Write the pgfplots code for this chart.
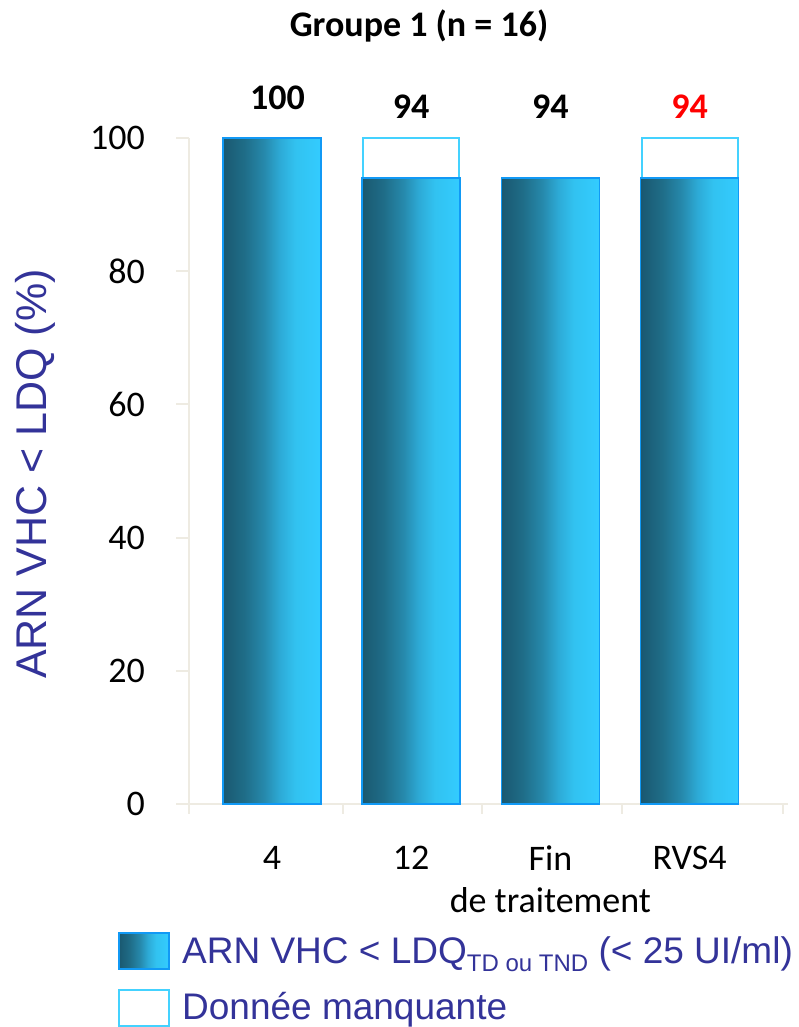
\documentclass[border=0pt]{standalone}
\usepackage{fontspec}
\setmainfont{Carlito}
\newfontfamily\arial{Liberation Sans}
\usepackage{pgfplots}
\pgfplotsset{compat=1.18}

\definecolor{axisgray}{HTML}{EEEBE2}
\definecolor{labelblue}{HTML}{333399}
\definecolor{barborder}{HTML}{1199F5}
\definecolor{missborder}{HTML}{44D2FF}
\definecolor{shA}{HTML}{1A5870}
\definecolor{shB}{HTML}{1F6D88}
\definecolor{shC}{HTML}{2689AC}
\definecolor{shD}{HTML}{2DAAD6}
\definecolor{shE}{HTML}{32C2F0}
\definecolor{shF}{HTML}{33CCFF}

% dark-to-light cylinder look of the bars
\pgfdeclarehorizontalshading{barshade}{100bp}{%
  color(0bp)=(shA); color(25bp)=(shA); color(36bp)=(shB); color(46bp)=(shC);
  color(54bp)=(shD); color(62bp)=(shE); color(75bp)=(shF); color(100bp)=(shF)}

\pgfplotsset{
  fullbar/.style={ybar, bar width=98pt, bar shift=0pt, draw=barborder,
    line width=1.6pt, shading=barshade},
  missbar/.style={ybar, bar width=96pt, bar shift=0pt, fill=white,
    draw=missborder, line width=2pt},
}

\begin{document}
\begin{tikzpicture}
\useasboundingbox (0pt,0pt) rectangle (798pt,1027pt);
\begin{axis}[
  at={(189pt,223pt)}, anchor=south west,
  scale only axis, width=599pt, height=666pt,
  xmin=-0.596, xmax=3.707, ymin=0, ymax=100,
  axis x line*=bottom, axis y line*=left,
  axis line style={axisgray, line width=2pt, -},
  ytick={0,20,...,100},
  xtick={0,1,2,3},
  xticklabels={4,12,{Fin\\de traitement},RVS4},
  minor xtick={-0.596,0.51,1.509,2.514,3.671},
  tick align=outside,
  major tick length=13pt, minor tick length=10pt,
  tick style={axisgray, line width=2pt},
  major x tick style={draw=none},
  /pgf/number format/assume math mode=true,
  ticklabel style={font=\fontsize{36}{42}\selectfont, text=black},
  yticklabel style={anchor=east, inner sep=0pt, xshift=-31pt},
  xticklabel style={align=center, anchor=north, inner sep=0pt, yshift=-29pt},
  ylabel={ARN VHC < LDQ (\%)},
  ylabel style={font=\arial\fontsize{43}{43}\selectfont, text=labelblue,
    at={(axis description cs:-0.257,0.4955)}, anchor=center},
  clip=false,
]
% missing data: box up to 100 % (94 % + 6 % missing), behind the filled bar
\addplot[missbar] coordinates {(1,100)};
\addplot[missbar] coordinates {(3,100)};
% patients with RNA below the LLOQ, one bar per time point
\addplot[fullbar] coordinates {(0,100)};
\addplot[fullbar] coordinates {(1,94)};
\addplot[fullbar] coordinates {(2,94)};
\addplot[fullbar] coordinates {(3,94)};

\node[anchor=base, font=\bfseries\fontsize{36}{36}\selectfont] at (axis cs:0.04,104.35) {100};
\node[anchor=base, font=\bfseries\fontsize{36}{36}\selectfont] at (axis cs:1,103.0) {94};
\node[anchor=base, font=\bfseries\fontsize{36}{36}\selectfont] at (axis cs:2,103.0) {94};
\node[anchor=base, font=\bfseries\fontsize{36}{36}\selectfont, text=red] at (axis cs:3,103.0) {94};
\end{axis}

% title
\node[font=\bfseries\fontsize{36}{36}\selectfont, anchor=base] at (419pt,990pt) {Groupe 1 (n = 16)};

% legend
\draw[barborder, line width=1.6pt, shading=barshade] (119pt,58pt) rectangle (169pt,94pt);
\node[anchor=base west, inner sep=0pt, font=\arial\fontsize{37}{37}\selectfont, text=labelblue]
  at (182pt,63pt) {ARN VHC < LDQ\raisebox{-8pt}{\fontsize{24}{24}\selectfont TD ou TND} (< 25 UI/ml)};
\draw[missborder, line width=2pt, fill=white] (119pt,1pt) rectangle (169pt,37pt);
\node[anchor=base west, inner sep=0pt, font=\arial\fontsize{37}{37}\selectfont, text=labelblue]
  at (182pt,8pt) {Donnée manquante};
\end{tikzpicture}
\end{document}
